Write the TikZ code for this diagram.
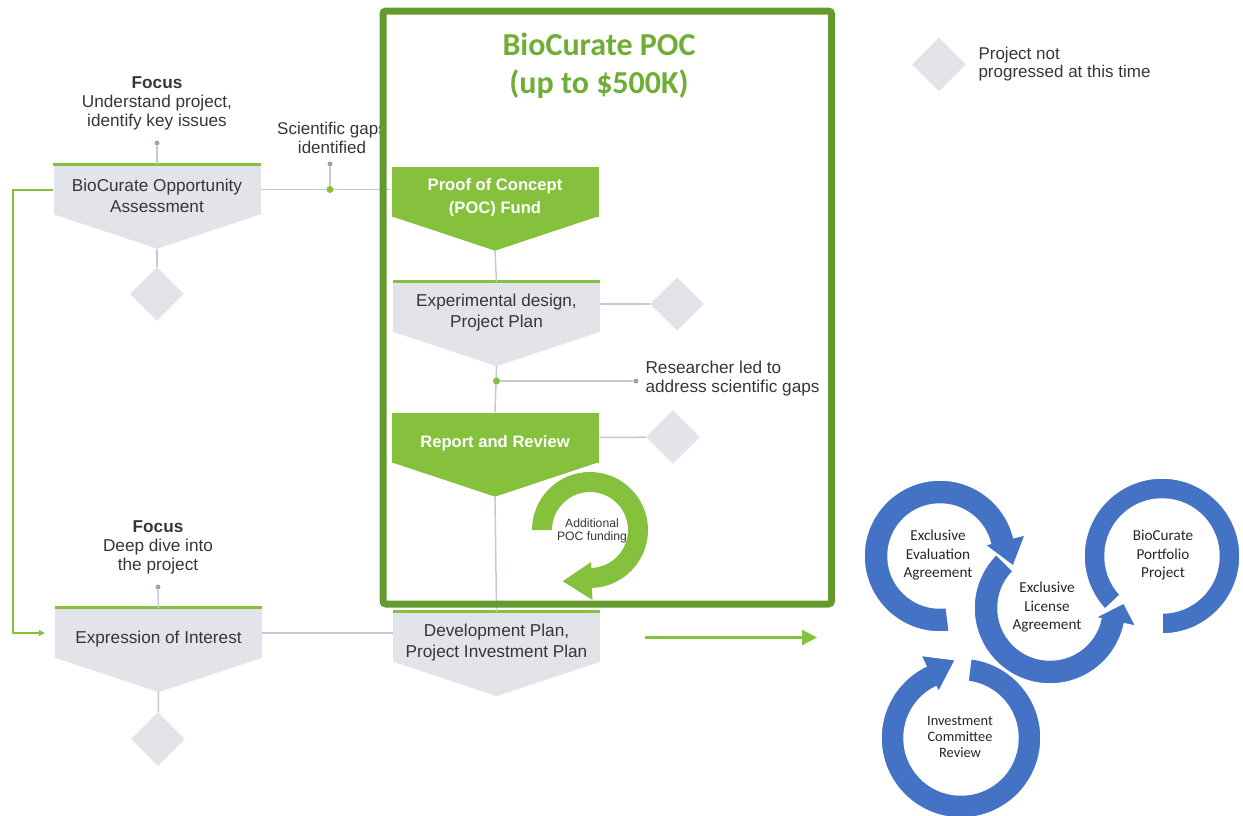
\documentclass[tikz,border=0pt]{standalone}
\usepackage{fontspec}
\setmainfont{Liberation Sans}
\newfontfamily\calibri{Carlito}
\usetikzlibrary{shapes.geometric,arrows.meta}

\definecolor{stagegray}{HTML}{E3E4E9}
\definecolor{linkgray}{HTML}{C5C9D1}
\definecolor{dotgray}{HTML}{9BA1AD}
\definecolor{pocgreen}{HTML}{85C13D}
\definecolor{framegreen}{HTML}{64992D}
\definecolor{titlegreen}{HTML}{70AD35}
\definecolor{inkgray}{HTML}{363636}
\definecolor{ringblue}{HTML}{4472C4}

\tikzset{
  stage/.style={fill=stagegray, minimum width=207pt, minimum height=50pt, inner sep=0pt},
  pocstage/.style={stage, fill=pocgreen},
  stagetext/.style={align=center, text=inkgray, yshift=-6pt, font=\fontsize{17.2}{21}\selectfont},
  poctext/.style={stagetext, text=white, font=\bfseries\fontsize{16.6}{23}\selectfont},
  topline/.style={draw=pocgreen, line width=3pt},
  link/.style={draw=linkgray, line width=1.5pt},
  nogo/.style={diamond, fill=stagegray, minimum width=54pt, minimum height=54pt, inner sep=0pt},
  gdot/.style={circle, fill=pocgreen, minimum size=7pt, inner sep=0pt},
  enddot/.style={circle, fill=dotgray, minimum size=5pt, inner sep=0pt},
  focusnote/.style={align=center, text=inkgray, font=\fontsize{17.2}{19}\selectfont},
  sidenote/.style={align=left, text=inkgray, font=\fontsize{17.2}{19}\selectfont},
  feedback/.style={draw=pocgreen, line width=2pt, -{Triangle[length=6pt,width=6pt]}, shorten >=10pt},
  handoff/.style={draw=pocgreen, line width=2.5pt, -{Triangle[length=15pt,width=15pt]}},
  pocframe/.style={draw=framegreen, line width=7pt, rounded corners=3pt},
  ringtext/.style={align=center, text=black!85, font=\calibri\fontsize{15.2}{18.5}\selectfont}
}

% circular arrow: [options]{centre}{inner r}{outer r}{start angle}{head base angle}{tip angle}
\newcommand{\cyclearrow}[7][]{%
  \begin{scope}[shift={(#2)}, yscale=-1]
    \filldraw[#1] (#5:#4) arc[start angle=#5, end angle=#6, radius=#4]
      -- (#6:{#4+12}) -- (#7:{(#3+#4)/2+10}) -- (#6:{#3-6})
      -- (#6:#3) arc[start angle=#6, end angle=#5, radius=#3] -- cycle;
  \end{scope}}

\begin{document}
\begin{tikzpicture}[x=1pt, y=-1pt]
  \useasboundingbox (0,0) rectangle (1243,815);

  % stages of the process
  \node[stage, label={[stagetext]center:{BioCurate Opportunity\\Assessment}}] (opp) at (157,189.5) {};
  \node[pocstage, label={[poctext]center:{Proof of Concept\\(POC) Fund}}] (poc) at (495,191.5) {};
  \node[stage, label={[stagetext]center:{Experimental design,\\Project Plan}}] (exp) at (496.5,307) {};
  \node[pocstage, label={[poctext]center:Report and Review}] (rep) at (495,437.5) {};
  \node[stage, label={[stagetext]center:{Development Plan,\\Project Investment Plan}}] (dev) at (496.5,637) {};
  \node[stage, label={[stagetext]center:Expression of Interest}] (eoi) at (158.5,633) {};

  \foreach \n/\c in {opp/stagegray, poc/pocgreen, exp/stagegray, rep/pocgreen, dev/stagegray, eoi/stagegray}
    \fill[\c] ([yshift=0.5pt]\n.south west) -- ([yshift=0.5pt]\n.south east)
      -- ([yshift=-34pt]\n.south) coordinate (\n-tip) -- cycle; % pointed bottom
  \foreach \n in {opp, exp, dev, eoi}
    \draw[topline] (\n.north west) -- (\n.north east);

  % diamonds = project not progressed
  \node[nogo] (nogoOpp) at (157,294) {};
  \node[nogo] (nogoExp) at (677,304) {};
  \node[nogo] (nogoRep) at (673,437) {};
  \node[nogo] (nogoEoi) at (158,739) {};
  \node[nogo] (nogoKey) at (939,64.5) {};
  \node[sidenote, anchor=west, font=\fontsize{17}{18}\selectfont] (keyText) at (975,64) {Project not\\progressed at this time};

  % grey connectors
  \draw[link] (opp.east) -- (opp.east -| poc.west);
  \draw[link] (poc-tip) -- (exp.north);
  \draw[link] (exp-tip) -- (rep.north);
  \draw[link] (rep-tip) -- (dev.north);
  \draw[link] (eoi.east) -- (eoi.east -| dev.west);
  \draw[link] (opp-tip) -- (nogoOpp);
  \draw[link] (eoi-tip) -- (nogoEoi);
  \draw[link] (exp.east |- nogoExp) -- (nogoExp);
  \draw[link] (rep.east) -- (nogoRep);

  % callouts
  \node[gdot] (gapDot) at (330,189.5) {};
  \node[enddot] (gapEnd) at (330,164) {};
  \draw[link] (gapDot) -- (gapEnd);
  \node[focusnote, font=\fontsize{17}{19}\selectfont] (gapText) at (332,137.5) {Scientific gaps\\identified};

  \node[enddot] (focusEndA) at (157,143) {};
  \draw[link] (focusEndA) -- (opp.north);
  \node[focusnote] (focusA) at (157,103) {\textbf{Focus}\\Understand project,\\identify key issues};

  \node[enddot] (focusEndB) at (158,587) {};
  \draw[link] (focusEndB) -- (eoi.north);
  \node[focusnote] (focusB) at (158,547.5) {\textbf{Focus}\\Deep dive into\\the project};

  \node[gdot] (resDot) at (496.5,381) {};
  \node[enddot] (resEnd) at (636,381) {};
  \draw[link] (resDot) -- (resEnd);
  \node[sidenote, anchor=west] (resText) at (642,378.5) {Researcher led to\\address scientific gaps};

  % loop back and hand-off arrows
  \draw[feedback] (opp.west) -- ++(-40,0) |- (eoi.west);
  \coordinate (handoffA) at (645,637.5);
  \coordinate (handoffB) at (817,637.5);
  \draw[handoff] (handoffA) -- (handoffB);

  % additional funding loop
  \cyclearrow[fill=pocgreen, draw=none]{590,530}{38}{58}{180}{-88}{-118}
  \node[text=black!80, align=center, font=\fontsize{12.2}{13}\selectfont] (extraFund) at (592,530.5) {Additional\\POC funding};

  % POC frame and title
  \draw[pocframe] (383,11) rectangle (831.5,604);
  \node[align=center, text=titlegreen, font=\calibri\bfseries\fontsize{32}{38}\selectfont] (pocTitle) at (599,66) {BioCurate POC\\(up to \$500K)};

  % agreement cycle
  \cyclearrow[fill=ringblue, draw=white, line width=1.5pt]{961,738}{57}{80}{83}{-244}{-266}
  \cyclearrow[fill=ringblue, draw=white, line width=1.5pt]{940,556}{52}{76}{-83}{-346}{-368}
  \begin{scope}[shift={(1162,556)}, yscale=-1]
    \filldraw[fill=ringblue, draw=white, line width=1.5pt] (-90:78) arc[start angle=-90, end angle=223, radius=78]
      -- (223:57) arc[start angle=223, end angle=-90, radius=57] -- cycle;
  \end{scope}
  \cyclearrow[fill=ringblue, draw=white, line width=1.5pt]{1050,608}{52}{76}{135}{348}{364}

  \node[ringtext] (evalText) at (938,555.5) {Exclusive\\Evaluation\\Agreement};
  \node[ringtext] (licText) at (1047,607.5) {Exclusive\\License\\Agreement};
  \node[ringtext] (portText) at (1163,555.5) {BioCurate\\Portfolio\\Project};
  \node[ringtext, font=\calibri\fontsize{14.4}{16}\selectfont] (icText) at (960,737) {Investment\\Committee\\Review};
\end{tikzpicture}
\end{document}
